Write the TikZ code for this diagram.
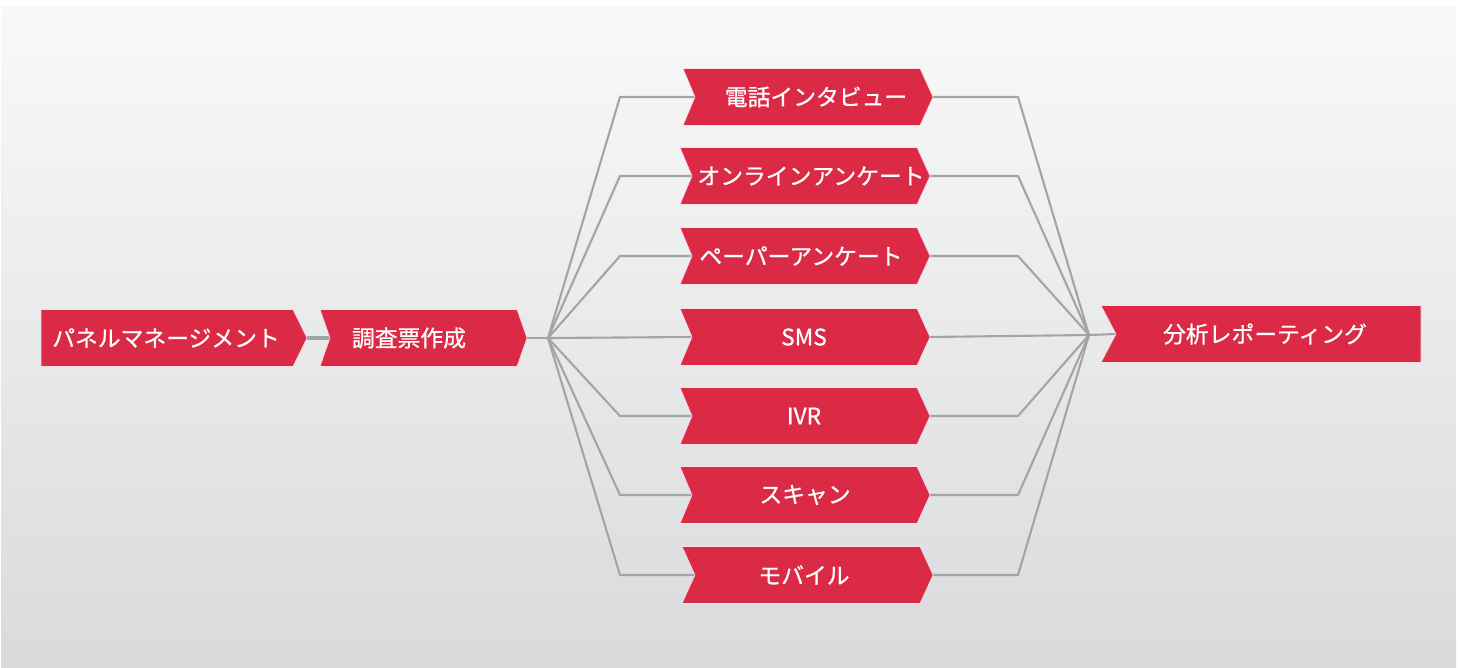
\documentclass[tikz,border=0pt]{standalone}
\usepackage{fontspec}
\usetikzlibrary{backgrounds}
\newfontfamily\jp[FakeBold=0.7]{Noto Sans CJK JP}
\definecolor{boxred}{RGB}{218,42,69}
\definecolor{linegray}{RGB}{163,164,166}
\definecolor{bgtop}{RGB}{249,249,249}
\definecolor{bgbot}{RGB}{217,218,220}
\tikzset{
  chevbox/.style={fill=boxred,draw=white!85!boxred,line width=0.6pt},
  chevtext/.style={text=white,font=\jp\fontsize{22.8}{25}\selectfont,inner sep=0pt,anchor=center},
  conn/.style={draw=linegray,line width=2.1pt,line join=round},
  connthick/.style={draw=linegray,line width=3.2pt}
}
% \chev{name}{leftx}{notchx}{righttopx}{tipx}{yc}{textx}{text}
\newcommand{\chev}[8]{%
  \path[chevbox] (#2,#6-28.5) -- (#4,#6-28.5) -- (#5,#6) -- (#4,#6+28.5) -- (#2,#6+28.5) -- (#3,#6) -- cycle;
  \coordinate (#1-in) at (#3,#6);
  \coordinate (#1-out) at (#5,#6);
  \node[chevtext] (#1) at (#7,#6) {#8};
}
\begin{document}
\begin{tikzpicture}[x=1pt,y=-1pt]
\useasboundingbox (0,0) rectangle (1464,668);

% left chain
\chev{panel}{41}{41}{293}{307}{338}{166}{パネルマネージメント}
\chev{survey}{320}{330}{517}{527}{338}{409}{調査票作成}

% channels
\chev{tel}{683}{695}{920}{933}{97}{816}{電話インタビュー}
\chev{online}{680}{692}{917}{930}{176}{811}{オンラインアンケート}
\chev{paper}{680}{692}{917}{930}{256}{801}{ペーパーアンケート}
\chev{sms}{680}{692}{917}{930}{337}{804}{SMS}
\chev{ivr}{680}{692}{917}{930}{416}{804}{IVR}
\chev{scan}{680}{692}{917}{930}{495}{805}{スキャン}
\chev{mobile}{682}{695}{920}{933}{575}{804}{モバイル}

% result
\chev{report}{1101}{1116}{1421}{1421}{334}{1265}{分析レポーティング}

\coordinate (fanL) at (548,338);
\coordinate (fanR) at (1089,335);

\begin{scope}[on background layer]
\shade[top color=bgtop,bottom color=bgbot] (1,7) rectangle (1456,668);
\draw[connthick] (panel-out) -- (survey-in);
\draw[conn] (survey-out) -- (fanL);
\foreach \n in {tel,online,paper,ivr,scan,mobile}{
  \draw[conn] (fanL) -- (\n-in -| 620,0) -- (\n-in);
  \draw[conn] (\n-out) -- (\n-out -| 1018,0) -- (fanR);
}
\draw[conn] (fanL) -- (sms-in);
\draw[conn] (sms-out) -- (fanR);
\draw[conn] (fanR) -- (report-in);
\end{scope}
\end{tikzpicture}
\end{document}
